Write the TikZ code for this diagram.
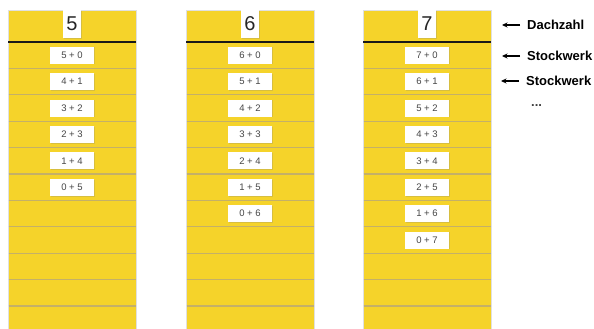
\documentclass[tikz,border=0pt]{standalone}
\usepackage{fontspec}
\setmainfont{Liberation Sans}
\usetikzlibrary{arrows.meta,shadows}
\definecolor{hausgelb}{RGB}{245,211,42}
\definecolor{etage}{RGB}{196,176,104}
\definecolor{ziffer}{RGB}{70,70,70}

\begin{document}
\begin{tikzpicture}[
    x=1pt,y=-1pt,
    haus/.style={fill=hausgelb,draw=black!12,line width=0.6pt},
    etagenlinie/.style={draw=etage,line width=1.1pt},
    dachlinie/.style={draw=black!90,line width=1.6pt},
    karte/.style={fill=white,inner sep=0pt,drop shadow={shadow xshift=0.8pt,shadow yshift=-0.8pt,opacity=0.25}},
    dachzahl/.style={karte,minimum width=18pt,minimum height=28pt,font=\fontsize{20}{20}\selectfont,text=black!85},
    aufgabe/.style={karte,minimum width=44pt,minimum height=17pt,font=\fontsize{9.5}{10}\selectfont,text=ziffer},
    marke/.style={anchor=west,inner sep=0pt,font=\fontsize{13}{14}\selectfont\bfseries},
    pfeil/.style={-{Stealth[length=5.5pt,width=5pt]},line width=1.2pt,shorten <=7pt}
]
\useasboundingbox (0,0) rectangle (594,329);

% drei Zahlenhaeuser
\foreach \h/\cx in {5/72,6/250,7/427} {
  \draw[haus] (\cx-64,10) rectangle (\cx+64,332);
  \foreach \k in {1,...,10}
    \draw[etagenlinie] (\cx-63.5,42+26.4*\k) -- (\cx+63.5,42+26.4*\k);
  \draw[dachlinie] (\cx-64,42) -- (\cx+64,42);
  \node[dachzahl] (zahl\h) at (\cx,24) {\h};
  \foreach \k in {0,...,\h} {
    \pgfmathtruncatemacro\a{\h-\k}
    \node[aufgabe] (auf\h-\k) at (\cx,{42+26.4*(\k+0.5)}) {\a{} + \k};
  }
}

% Beschriftung rechts
\node[marke] (dach) at (527,25) {Dachzahl};
\node[marke] (stock1) at (527,56) {Stockwerk};
\node[marke] (stock2) at (526,81) {Stockwerk};
\node[marke,text=black!75] (punkte) at (531,106) {...};
\coordinate (p1) at (502,25);
\coordinate (p2) at (502,56);
\coordinate (p3) at (501,81);

\draw[pfeil] (dach) -- (p1);
\draw[pfeil] (stock1) -- (p2);
\draw[pfeil] (stock2) -- (p3);
\end{tikzpicture}
\end{document}
